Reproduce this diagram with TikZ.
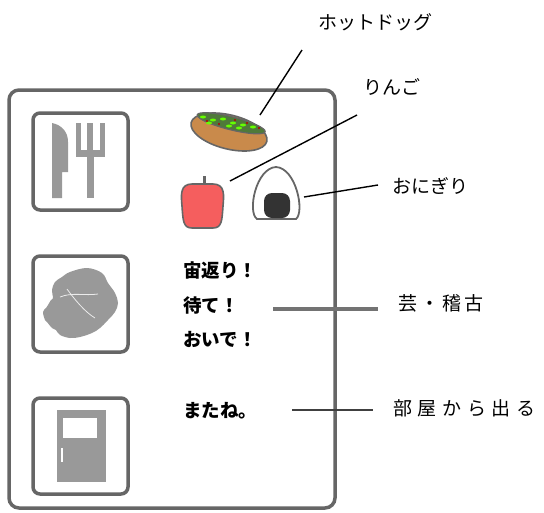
\documentclass[tikz,border=0pt]{standalone}
\usepackage{fontspec}
\newfontfamily\jp{Noto Sans CJK JP}
\usetikzlibrary{%
    shapes,%
    positioning,%
    calc%
}
\definecolor{frame}{HTML}{666666}
\definecolor{icon}{HTML}{999999}
\definecolor{bun}{HTML}{C98A4B}
\definecolor{lettuce}{HTML}{4F7A3A}
\definecolor{apple}{HTML}{F55E5E}
\tikzset{
    panel/.style = {draw = frame, line width = 3.5pt, rounded corners = 10pt},
    iconbox/.style = {draw = frame, line width = 3.5pt, rounded corners = 7pt},
    callout/.style = {font = \jp\fontsize{19}{19}\selectfont, anchor = west, inner sep = 0pt},
    wide/.style = {font = \jp\fontsize{19}{19}\selectfont\addfontfeatures{LetterSpace=#1}},
    speech/.style = {font = \jp\bfseries\fontsize{18.5}{18.5}\selectfont, anchor = west, inner sep = 0pt},
    leader/.style = {draw = black, line width = 1.4pt}
}

\begin{document}
\begin{tikzpicture}[x=1pt, y=-1pt]
    \useasboundingbox (0,0) rectangle (544,512);

    % Outer panel and the three icon boxes
    \draw[panel] (9,90) rectangle (335,508);
    \draw[iconbox] (33,113) rectangle (128,210);
    \draw[iconbox] (33,256) rectangle (128,352);
    \draw[iconbox] (33,398) rectangle (128,494);

    % Knife and fork
    \fill[icon] (52,123) .. controls (62,125) and (68,132) .. (68,142)
        -- (68,172) -- (62,172) -- (62,198) -- (52,198) -- cycle;
    \fill[icon] (76,123) rectangle (81,152);
    \fill[icon] (87,123) rectangle (93,152);
    \fill[icon] (100,123) rectangle (105,152);
    \fill[icon] (76,150) rectangle (105,157);
    \fill[icon] (87,150) rectangle (94,198);

    % Hand
    \fill[icon] plot[smooth cycle, tension=0.6] coordinates {
        (70,272) (87,268) (102,273) (108,283) (115,293) (118,303) (115,312)
        (108,320) (100,328) (92,333) (80,337) (70,338) (60,335) (56,330)
        (52,328) (47,322) (45,320) (43,312) (46,308) (48,305) (51,300)
        (53,298) (52,290) (55,282) (62,277)};
    \draw[white!80!icon, line width = 0.8pt] (67,289) .. controls (75,300) and (85,312) .. (95,318);
    \draw[white!80!icon, line width = 0.8pt] (60,297) .. controls (72,292) and (85,296) .. (98,294);

    % Door
    \fill[icon] (57,410) rectangle (106,482);
    \fill[white] (63,418) rectangle (97,438);
    \draw[white, line width = 1.2pt] (62,448) -- (62,462);

    % Hot dog
    \coordinate (hotdog) at (229,132);
    \draw[fill = bun, draw = frame, line width = 1.6pt, rotate around = {-14:(hotdog)}]
        (hotdog) ellipse (39pt and 17pt);
    \draw[fill = lettuce, draw = frame, line width = 1.2pt, rotate around = {-14:(hotdog)}]
        ($(hotdog)+(0,-9)$) ellipse (35pt and 6.5pt);
    \foreach \dx/\dy in {-26/-15, -16/-12, -6/-13, 4/-9, 14/-7, 24/-5, -20/-9, 0/-6, 10/-4} {
        \fill[green!60!yellow] ($(hotdog)+(\dx,\dy)$) ellipse (3pt and 1.5pt);
    }
    \foreach \dx/\dy in {-22/-11, -10/-8, 6/-12, 18/-9, 30/-4} {
        \fill[red!70!black] ($(hotdog)+(\dx,\dy)$) circle (1.2pt);
    }

    % Apple
    \draw[frame, line width = 3pt] (204,176) -- (204,189);
    \draw[fill = apple, draw = frame, line width = 1.6pt]
        (192,184) .. controls (180,184) and (181,195) .. (182,206)
        .. controls (183,220) and (183,228) .. (192,228)
        -- (213,228) .. controls (222,228) and (222,220) .. (223,206)
        .. controls (224,195) and (225,184) .. (213,184) -- cycle;

    % Rice ball
    \draw[fill = white, draw = frame, line width = 1.8pt]
        (257,219) .. controls (247,212) and (256,168) .. (276,167)
        .. controls (296,168) and (305,212) .. (296,219) -- cycle;
    \fill[black!80, rounded corners = 8pt] (264,218) -- (264,193) -- (290,193) -- (290,218) -- cycle;

    % Lines spoken by the pet
    \node[speech] (flip) at (183,270) {宙返り！};
    \node[speech] (wait) at (183,305) {待て！};
    \node[speech] (come) at (183,339) {おいで！};
    \node[speech] (bye) at (183,411) {またね。};

    % Labels on the right
    \node[callout] (lbl-hotdog) at (318,22) {ホットドッグ};
    \node[callout] (lbl-apple) at (363,87) {りんご};
    \node[callout] (lbl-rice) at (392,186) {おにぎり};
    \node[callout, wide = 16] (lbl-trick) at (398,303) {芸・稽古};
    \node[callout, wide = 30] (lbl-leave) at (393,408) {部屋から出る};

    % Leader lines
    \coordinate (hotdog-end) at (302,50);
    \coordinate (apple-end) at (357,115);
    \coordinate (rice-end) at (378,185);
    \coordinate (trick-end) at (378,309);
    \coordinate (leave-end) at (373,410);
    \draw[leader] (260,115) -- (hotdog-end);
    \draw[leader] (230,181) -- (apple-end);
    \draw[leader] (304,197) -- (rice-end);
    \draw[draw = black!55, line width = 4pt] (273,309) -- (trick-end);
    \draw[draw = black!75, line width = 2pt] (292,410) -- (leave-end);
\end{tikzpicture}
\end{document}
